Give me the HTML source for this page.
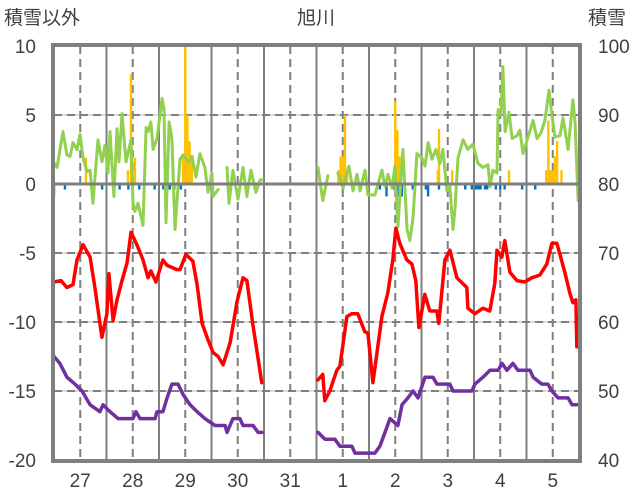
<!DOCTYPE html>
<html><head><meta charset="utf-8"><style>
html,body{margin:0;padding:0;background:#fff;}
svg{display:block;font-family:"Liberation Sans","Noto Sans CJK JP",sans-serif;}
</style></head><body>
<svg id="chart" width="636" height="501" viewBox="0 0 636 501" xmlns="http://www.w3.org/2000/svg">
<text x="316" y="24" font-size="19" fill="#404040" text-anchor="middle">旭川</text>
<text x="4" y="24" font-size="19" fill="#404040">積雪以外</text>
<text x="588" y="24" font-size="19" fill="#404040">積雪</text>
<g id="grid"></g>
<g id="marks"></g>
<g id="axes"></g>
</svg>
<script>
const leftTicks=[10,5,0,-5,-10,-15,-20];
const rightTicks=[100,90,80,70,60,50,40];
const dayLabels=["27","28","29","30","31","1","2","3","4","5"];
// [hour, value] ; null = gap
const redHours=[0,3.2,5.9,8.7,10.5,13.3,16.5,18.7,21.9,24.2,25.1,27,28.8,31.1,33.4,35.2,37.9,40.7,43,44.3,46.6,49.8,51.7,56.2,57.6,60.3,63.5,65.4,67.7,70.4,72.7,75,77.3,80.5,83.7,86.4,88.2,91,95,null,120.6,122.9,123.8,126.1,129.3,130.7,133.9,136.2,138.9,142.1,143.5,145.8,149.9,152.6,154.9,156.3,158.1,161.3,163.6,165.4,166.8,169.5,171.8,175,175.9,178.7,181,184.2,188.7,189.2,192.4,196.1,199.2,201.5,202.5,204.7,206.1,208.4,211.6,215.2,218.4,222.1,225.3,227.6,229.9,233.5,235.8,237.2,238.6,239];
const redValues=[-7.1,-7.0,-7.5,-7.3,-5.5,-4.4,-5.3,-7.5,-11.1,-9.4,-6.5,-9.9,-8.4,-7,-5.7,-3.5,-4.4,-5.5,-6.8,-6.3,-7.1,-5.5,-5.9,-6.2,-6.2,-5.1,-5.6,-7.3,-10.1,-11.3,-12.2,-12.5,-13.1,-11.5,-8.5,-6.8,-7.0,-10.3,-14.4,null,-14.2,-13.8,-15.7,-15,-13.5,-13.2,-9.6,-9.4,-9.4,-10.7,-10.8,-14.4,-9.6,-7.9,-5.5,-3.2,-4.3,-5.5,-5.8,-7.0,-10.4,-8.0,-9.2,-9.2,-10.1,-5.5,-4.8,-6.8,-7.5,-9.0,-9.4,-9.0,-9.2,-7.2,-4.8,-5.3,-4.1,-6.4,-7.0,-7.1,-6.8,-6.6,-5.8,-4.3,-4.3,-6.4,-7.9,-8.6,-8.4,-11.8];
const snowHours=[0,2.7,5.9,9.6,12.8,16.5,21,22.4,25.6,29.3,36.1,37.5,39.3,46.2,47.1,49.8,51.7,53.9,56.7,59,62.2,65.4,69,73.6,78.2,79.1,81.8,85,86.4,91,93.3,95.1,null,120.7,123.9,128.4,130.7,136.2,137.6,146.7,149,151.3,153.6,157.2,159.1,161.8,164.1,166.4,169.6,173.2,175.1,181,182.4,191.1,192.4,196.1,199.3,203,204.8,207.1,209.8,212.1,217.6,219,223,225.8,227.6,230.4,235,236.8,239.1];
const snowDepth=[55,54,52,51,50,48,47,48,47,46,46,47,46,46,47,47,49,51,51,49.5,48,47,46,45,45,44,46,46,45,45,44,44,null,44,43,43,42,42,41,41,42,44,46,45,48,49,50,49,52,52,51,51,50,50,51,52,53,53,54,53,54,53,53,52,51,51,50,49,49,48,48];
const greenHours=[0,1.4,4.1,5.9,7.3,8.7,10.5,11.9,13.3,15.1,16.5,17.8,20.1,21.9,23.3,24.7,25.6,27.4,28.8,29.7,31.1,32.9,35.2,36.1,37,38.4,40.7,42.1,43,44.3,45.3,47.1,49.4,50.3,51.2,52.6,53.9,55.3,57.6,59,61.3,63.1,64.9,66.7,69,70.4,72.2,72.7,75,null,79.1,80,81.8,84.1,86.4,88.2,90,92.3,94.2,95.1,null,120.7,122.9,125.2,null,129.8,132.1,134.8,136.7,138.5,139.9,142.2,143.5,146.7,149.9,151.3,152.7,154.5,155.9,157.2,159.5,161.4,162.7,164.1,165.9,168.2,169.6,171,172.8,174.6,176.4,177.8,179.6,181,182.4,183.3,184.7,187,189.2,191.5,193.8,196.1,198.4,199.3,200.7,202.5,203,204.3,205.2,206.2,208,209.4,211.6,213,214.4,216.7,219,220.8,222.6,224.4,226.3,227.6,229,231.3,232.7,235,237.2,238.2,239.6];
const greenValues=[1.5,1.2,3.8,2.1,2.0,3.0,2.5,3.6,1.9,0.9,1.0,-1.4,3.2,1.6,2.8,0.8,3.8,-0.9,4.0,1.6,5.1,1.6,3.2,-1.4,-2.0,-1.4,-3.0,4.1,3.8,4.5,2.5,3.3,6.2,5.4,-2.8,4.5,3.3,-3.3,1.8,2.1,1.6,2.0,0.5,2.2,1.2,-0.6,0.8,-0.9,-0.4,null,1.2,-1.4,1.0,-1.1,1.2,-0.9,1.0,-0.6,0.3,0.3,null,1.2,-1.2,0.6,null,0.8,-0.3,1.3,-0.5,0.7,-0.5,1.0,-0.8,-0.8,1.0,-0.2,0.7,-0.3,1.3,-3.1,2.5,-3.3,-4.1,-2.5,2.2,1.9,1.3,3.0,1.8,2.5,1.5,2.5,-0.5,-0.2,-3.3,-1.8,1.9,3.2,2.5,2.9,1.5,1.2,1.4,-0.2,1.0,0.8,5.4,5.0,8.5,3.8,5.2,3.3,3.5,3.9,2.2,3.4,4.6,3.3,3.7,4.6,6.8,5.0,3.4,3.5,4.8,2.5,6.1,4.4,-1.2];
const orangeHours=[14.6,33.8,35.2,37,59,60,61,62,63,130,131,132,133,134,156,157,158,175.5,176,182,208,225,226,227,228,229,230,232];
const orangeValues=[1.9,1.0,8.0,1.9,1.9,10,5.0,3.1,1.9,1.0,2.0,2.0,5.0,1.0,6.0,3.9,2.0,1.0,4.0,1.0,1.0,1.0,4.6,1.0,1.0,2.0,3.1,1.0];
const blueHours=[0,5,22,30,34,36,39,46,50,52,53,55,58,149,152,155,157,159,164,170,171,176,181,188,191,193,194,195,197,198,202,204,206,214,220];
const blueValues=[-0.9,-0.4,-0.4,-0.4,-0.4,-0.4,-0.4,-0.4,-0.4,-0.4,-0.4,-0.4,-0.4,-0.4,-0.9,-0.4,-0.9,-0.9,-0.4,-0.4,-0.9,-0.4,-0.4,-0.4,-0.4,-0.4,-0.4,-0.4,-0.4,-0.4,-0.4,-0.4,-0.4,-0.4,-0.4];

const NS="http://www.w3.org/2000/svg";
const X0=54,X1=579,Y0=46,Y1=460;
const pxH=52.5/24;
function xs(h){return X0+h*pxH;}
function yL(v){return 184-13.8*v;}
function yR(d){return yL((d-80)/2);}
function mk(tag,attrs,parent){const e=document.createElementNS(NS,tag);for(const k in attrs)e.setAttribute(k,attrs[k]);parent.appendChild(e);return e;}
const grid=document.getElementById('grid'),marks=document.getElementById('marks'),axes=document.getElementById('axes');

// horizontal grid
leftTicks.forEach(v=>{
  if(v===10||v===-20||v===0)return;
  const l=mk('line',{x1:X0,x2:X1,y1:yL(v),y2:yL(v),stroke:'#d0d0d0','stroke-width':1.5},grid);
  
  
  const d=mk('line',{x1:X0,x2:X1,y1:yL(v),y2:yL(v),stroke:'#7f7f7f','stroke-width':2,'stroke-dasharray':'8,5'},grid);
  
  
});
// vertical grid
for(let i=0;i<10;i++){
  const xm=xs(i*24+12);
  const d=mk('line',{x1:xm,x2:xm,y1:Y0,y2:Y1,stroke:'#7f7f7f','stroke-width':2,'stroke-dasharray':'8,5'},grid);
  
  
  if(i>0){
    const xb=xs(i*24);
    const s=mk('line',{x1:xb,x2:xb,y1:Y0,y2:Y1,stroke:'#7f7f7f','stroke-width':2},grid);
    
    
  }
  const t=mk('text',{x:xm,y:487,'font-size':19,fill:'#404040','text-anchor':'middle'},axes);
  t.textContent=dayLabels[i];
  
  
}
// bars
function bars(hs,vs,color,name){
  hs.forEach((h,i)=>{
    const v=vs[i];const y=yL(Math.max(v,0)),hh=Math.abs(yL(v)-yL(0));
    const r=mk('rect',{x:xs(h)-1.2,y:y,width:2.4,height:hh,fill:color},marks);
    
    
  });
}
bars(orangeHours,orangeValues,'#FFC000','precip-bar');
bars(blueHours,blueValues,'#0070C0','negative-bar');
// lines
function line(hs,vs,fy,color,w,name){
  let d='',pen=false;
  hs.forEach((h,i)=>{
    if(h===null||vs[i]===null){pen=false;return;}
    d+=(pen?'L':'M')+xs(h).toFixed(1)+' '+fy(vs[i]).toFixed(1)+' ';pen=true;
  });
  const p=mk('path',{d:d,fill:'none',stroke:color,'stroke-width':w,'stroke-linejoin':'round','stroke-linecap':'round'},marks);
  
  
}
line(greenHours,greenValues,yL,'#92D050',3,'green-series-line');
line(redHours,redValues,yL,'#FF0000',3.5,'temperature-line');
line(snowHours,snowDepth,yR,'#7030A0',3.5,'snow-depth-line');
// zero axis & frame
const z=mk('line',{x1:X0,x2:X1,y1:yL(0),y2:yL(0),stroke:'#7f7f7f','stroke-width':3},axes);


const f=mk('rect',{x:X0-1,y:Y0-1,width:X1-X0+2,height:Y1-Y0+2,fill:'none',stroke:'#7f7f7f','stroke-width':4},axes);


leftTicks.forEach(v=>{
  const t=mk('text',{x:36,y:yL(v)+7,'font-size':19,fill:'#404040','text-anchor':'end'},axes);
  t.textContent=String(v);
  
  
});
rightTicks.forEach(v=>{
  const t=mk('text',{x:598,y:yR(v)+7,'font-size':19,fill:'#404040'},axes);
  t.textContent=String(v);
  
  
});
</script>
</body></html>
